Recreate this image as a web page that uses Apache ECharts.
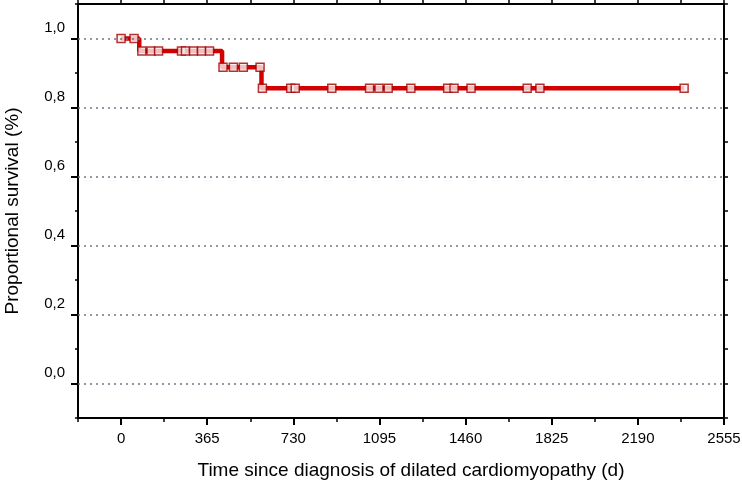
<!DOCTYPE html>
<html>
<head>
<meta charset="utf-8">
<script src="https://cdn.jsdelivr.net/npm/echarts@6/dist/echarts.min.js"></script>
<style>
html,body{margin:0;padding:0;background:#fff;}
#main{width:742px;height:484px;}
</style>
</head>
<body>
<div id="main"></div>
<script>
// Kaplan-Meier step curve (event times and survival)
var kmTimes = [0, 77, 428, 595, 2386];
var kmSurv  = [1.0, 0.964, 0.917, 0.856, 0.856];
// censored observations (marks)
var censorTimes = [0, 55, 88, 127, 159, 256, 273, 307, 341, 375, 432, 476, 518, 589, 599, 719, 738, 893, 1053, 1093, 1132, 1228, 1384, 1411, 1483, 1721, 1775, 2386];
var censorSurv  = [1.0, 1.0, 0.964, 0.964, 0.964, 0.964, 0.964, 0.964, 0.964, 0.964, 0.917, 0.917, 0.917, 0.917, 0.856, 0.856, 0.856, 0.856, 0.856, 0.856, 0.856, 0.856, 0.856, 0.856, 0.856, 0.856, 0.856, 0.856];
// axis ticks
var xTicks = [0, 365, 730, 1095, 1460, 1825, 2190, 2555];
var yTicks = [0, 0.2, 0.4, 0.6, 0.8, 1.0];
var xMin = -182.5, xMax = 2555, xMinor = 182.5;
var yMin = -0.1, yMax = 1.1, yMinor = 0.1;

var FONT = 'Liberation Sans, Arial, sans-serif';
var chart = echarts.init(document.getElementById('main'), null, {renderer: 'canvas'});

function blankAxis(extra) {
  var a = {
    type: 'value',
    splitLine: {show: false},
    axisLabel: {show: false},
    axisLine: {show: false, onZero: false},
    axisTick: {show: true, inside: false, length: 4, lineStyle: {color: '#000', width: 1.5}}
  };
  for (var k in extra) a[k] = extra[k];
  return a;
}

var option = {
  animation: false,
  backgroundColor: '#fff',
  grid: {left: 78, right: 18, top: 4, bottom: 66, containLabel: false, outerBoundsMode: 'none'},
  xAxis: [
    {
      type: 'value', min: xMin, max: xMax, position: 'bottom',
      name: 'Time since diagnosis of dilated cardiomyopathy (d)',
      nameLocation: 'middle', nameGap: 43,
      nameTextStyle: {fontFamily: FONT, fontSize: 19, color: '#000', padding: [0, 0, 0, 20]},
      axisLine: {show: true, onZero: false, lineStyle: {color: '#000', width: 2}},
      axisTick: {show: true, length: 7, customValues: xTicks, lineStyle: {color: '#000', width: 2}},
      axisLabel: {show: true, customValues: xTicks, fontFamily: FONT, fontSize: 15, color: '#000', margin: 13,
        formatter: function (v) { return String(v); }},
      splitLine: {show: false}
    },
    blankAxis({min: xMin, max: xMax, interval: xMinor, position: 'bottom'}),
    blankAxis({min: xMin, max: xMax, interval: xMinor, position: 'top',
      axisLine: {show: true, onZero: false, lineStyle: {color: '#000', width: 2}}})
  ],
  yAxis: [
    {
      type: 'value', min: yMin, max: yMax, position: 'left',
      name: 'Proportional survival (%)',
      nameLocation: 'middle', nameGap: 56,
      nameTextStyle: {fontFamily: FONT, fontSize: 19, color: '#000'},
      axisLine: {show: true, onZero: false, lineStyle: {color: '#000', width: 2}},
      axisTick: {show: true, length: 7, customValues: yTicks, lineStyle: {color: '#000', width: 2}},
      axisLabel: {
        show: true, customValues: yTicks, fontFamily: FONT, fontSize: 15, color: '#000', margin: 13,
        verticalAlign: 'bottom', padding: [0, 0, 3, 0],
        formatter: function (v) { return v.toFixed(1).replace('.', ','); }
      },
      splitLine: {show: false}
    },
    blankAxis({min: yMin, max: yMax, interval: yMinor, position: 'left', axisTick: {show: true, length: 3, lineStyle: {color: '#000', width: 1.5}}}),
    blankAxis({min: yMin, max: yMax, interval: yMinor, position: 'right',
      axisLine: {show: true, onZero: false, lineStyle: {color: '#000', width: 2}}})
  ],
  series: [
    {
      type: 'line',
      xAxisIndex: 0, yAxisIndex: 0,
      step: 'end',
      symbol: 'none',
      silent: true,
      lineStyle: {color: '#d20000', width: 4.5},
      data: kmTimes.map(function (t, i) { return [t, kmSurv[i]]; }),
      markLine: {
        silent: true,
        symbol: 'none',
        label: {show: false},
        lineStyle: {color: '#6f7688', type: [2, 4], width: 1.5},
        data: yTicks.map(function (v) { return {yAxis: v}; })
      },
      z: 3
    },
    {
      type: 'scatter',
      xAxisIndex: 0, yAxisIndex: 0,
      symbol: 'rect',
      symbolSize: 8,
      itemStyle: {color: '#fbeeee', borderColor: '#a00000', borderWidth: 1.5},
      data: censorTimes.map(function (t, i) { return [t, censorSurv[i]]; }),
      z: 4
    }
  ]
};
chart.setOption(option);
</script>
</body>
</html>
